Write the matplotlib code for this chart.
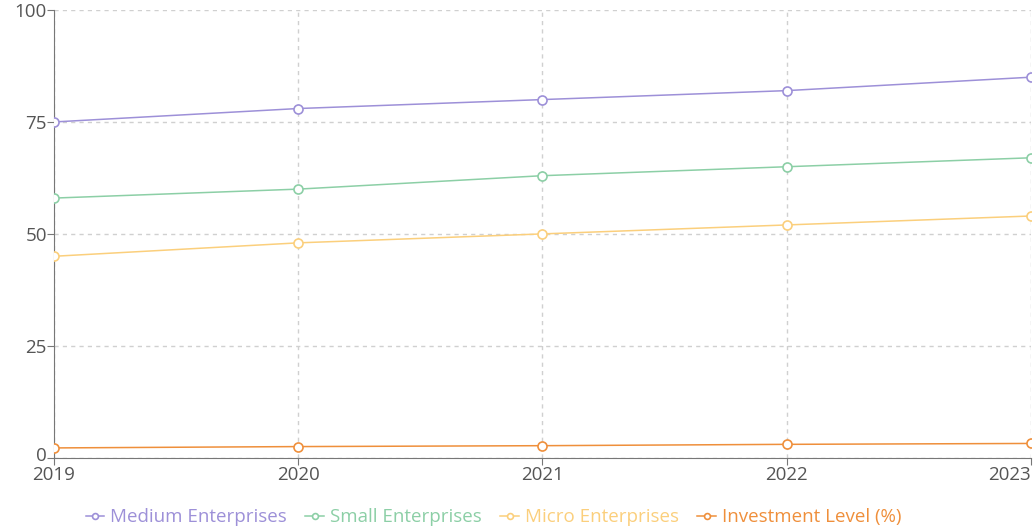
import matplotlib
matplotlib.use('Agg')
import matplotlib.pyplot as plt
import matplotlib.transforms as mtransforms

plt.rcParams['font.family'] = ['Open Sans', 'DejaVu Sans']

# Data
years = [2019, 2020, 2021, 2022, 2023]
medium = [75, 78, 80, 82, 85]
small = [58, 60, 63, 65, 67]
micro = [45, 48, 50, 52, 54]
investment = [2.2, 2.5, 2.7, 3.0, 3.2]

series = [
    ('Medium Enterprises', medium, '#9d90d8'),
    ('Small Enterprises', small, '#8ccfa6'),
    ('Micro Enterprises', micro, '#fbcf7c'),
    ('Investment Level (%)', investment, '#ef8f3b'),
]

fig = plt.figure(figsize=(10.35, 5.28), dpi=100)
ax = fig.add_axes([0.052, 0.133, 0.944, 0.848])

for name, vals, col in series:
    ax.plot(years, vals, color=col, lw=1.1, marker='o', ms=6.5,
            mfc='white', mec=col, mew=1.2, label=name, zorder=3)

ax.set_xlim(2019, 2023)
ax.set_ylim(0, 100)
ax.set_xticks(years)
ax.set_yticks([0, 25, 50, 75, 100])
ax.grid(True, color='#d0d0d0', ls=(0, (3, 3)), lw=1)
for s in ['top', 'right']:
    ax.spines[s].set_visible(False)
ax.spines['left'].set_color('#777777')
ax.spines['bottom'].set_color('#777777')
ax.tick_params(axis='both', colors='#777777', labelcolor='#555555',
               labelsize=13.5, length=5)
ax.tick_params(axis='x', pad=1)
ax.tick_params(axis='y', pad=0)
ax.get_xticklabels()[-1].set_ha('right')

# nudge the "0" label up a little so it doesn't sit on top of "2019"
zero = ax.get_yticklabels()[0]
zero.set_transform(zero.get_transform() +
                   mtransforms.ScaledTranslation(0, 3 / 72, fig.dpi_scale_trans))

leg = ax.legend(loc='upper center', bbox_to_anchor=(0.45, -0.075), ncol=4,
                frameon=False, fontsize=13.5, handlelength=1.0,
                columnspacing=1.0, handletextpad=0.3, markerscale=0.65)
for txt, (_, _, col) in zip(leg.get_texts(), series):
    txt.set_color(col)

fig.savefig('out.png', dpi=100)
